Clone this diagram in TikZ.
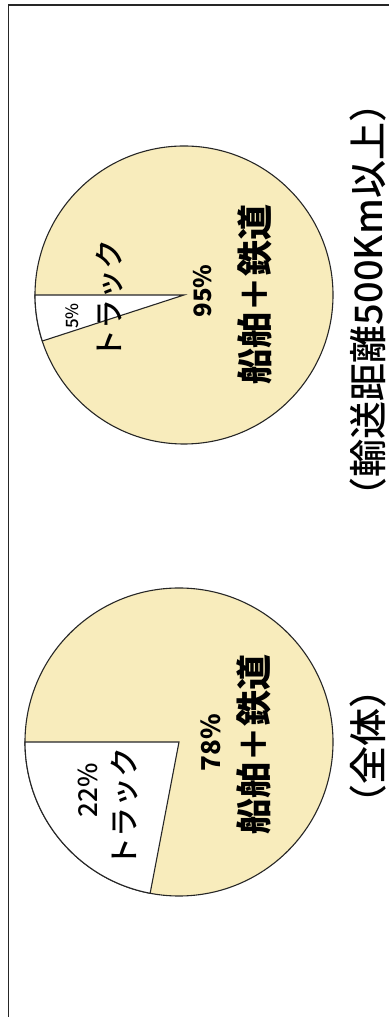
\documentclass[tikz,border=0pt]{standalone}
\usepackage{fontspec}
\newfontfamily\jp{Noto Sans CJK JP}
\newfontfamily\jpm{Noto Sans CJK JP Medium}
\definecolor{piefill}{RGB}{248,236,188}

\begin{document}
\begin{tikzpicture}[x=1pt, y=1pt]
\tikzset{ inner sep=0pt, outer sep=0pt,
  pieline/.style={line width=1.1pt, black!85},
  lab/.style={rotate=90, font=\jpm},
  boldlab/.style={rotate=90, font=\jp\bfseries},
}

\useasboundingbox (0,0) rectangle (389,1017);

%\draw [lightgray, dashed](0,0) grid[step=50] (389,1017);

% frame
\coordinate (BL) at (8.5,0);
\coordinate (TL) at (8.5,1012);
\coordinate (TR) at (389,1012);
\draw [line width=1.4pt, black!85] (BL) -- (TL) -- (TR);

% upper pie (500km and more)
\coordinate (Cu) at (184,722);
\filldraw [pieline, fill=piefill] (Cu) circle (149);
\filldraw [pieline, fill=white] (Cu) -- ++(180:149) arc (180:198:149) -- cycle;

\node [lab, font=\jpm\fontsize{17}{17}\selectfont] (pctTu) at (72,701) {5\%};
\node [lab, font=\jpm\fontsize{30}{30}\selectfont] (truckU) at (110,717) {トラック};
\node [boldlab, font=\jp\bfseries\fontsize{24}{24}\selectfont] (pctSu) at (203,726) {95\%};
\node [boldlab, font=\jp\bfseries\fontsize{36}{36}\selectfont] (shipU) at (255,722) {船舶＋鉄道};
\node [lab, font=\jpm\fontsize{38}{38}\selectfont] (capU) at (368,717) {（輸送距離500Km以上）};

% lower pie (all)
\coordinate (Cl) at (179,275);
\filldraw [pieline, fill=piefill] (Cl) circle (154);
\filldraw [pieline, fill=white] (Cl) -- ++(180:154) arc (180:259.2:154) -- cycle;

\node [lab, font=\jpm\fontsize{26}{26}\selectfont] (pctTl) at (88,227) {22\%};
\node [lab, font=\jpm\fontsize{30}{30}\selectfont] (truckL) at (125,209) {トラック};
\node [boldlab, font=\jp\bfseries\fontsize{26}{26}\selectfont] (pctSl) at (211,274) {78\%};
\node [boldlab, font=\jp\bfseries\fontsize{36}{36}\selectfont] (shipL) at (254,272) {船舶＋鉄道};
\node [lab, font=\jpm\fontsize{38}{38}\selectfont] (capL) at (368,270) {（全体）};

\end{tikzpicture}
\end{document}
